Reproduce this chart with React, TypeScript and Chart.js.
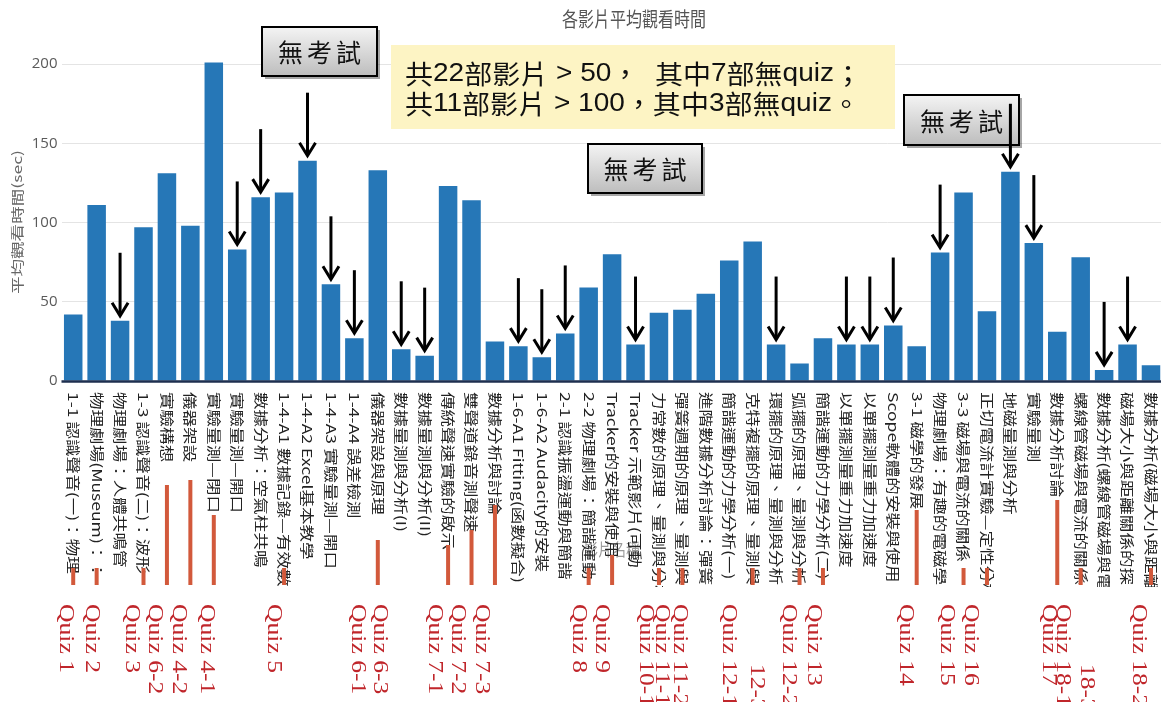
import { useEffect, useRef } from "react";
import { Chart, registerables } from "chart.js";

Chart.register(...registerables);

// ---------- data ----------
const videoTitles: string[] = [
  "1-1 認識聲音(一)：物理",
  "物理劇場(Museum)：：",
  "物理劇場：人體共鳴管",
  "1-3 認識聲音(二)：波形",
  "實驗構想",
  "儀器架設",
  "實驗量測—閉口",
  "實驗量測—開口",
  "數據分析：空氣柱共鳴",
  "1-4-A1 數據記錄—有效數",
  "1-4-A2 Excel基本教學",
  "1-4-A3 實驗量測—開口",
  "1-4-A4 誤差檢測",
  "儀器架設與原理",
  "數據量測與分析(I)",
  "數據量測與分析(II)",
  "傳統聲速實驗的啟示",
  "雙聲道錄音測聲速",
  "數據分析與討論",
  "1-6-A1 Fitting(函數擬合)",
  "1-6-A2 Audacity的安裝",
  "2-1 認識振盪運動與簡諧",
  "2-2 物理劇場：簡諧運動",
  "Tracker的安裝與使用",
  "Tracker 示範影片(可動",
  "力常數的原理、量測與分析",
  "彈簧週期的原理、量測與",
  "進階數據分析討論：彈簧",
  "簡諧運動的力學分析(一)",
  "克特複擺的原理、量測與",
  "環擺的原理、量測與分析",
  "弧擺的原理、量測與分析",
  "簡諧運動的力學分析(二)",
  "以單擺測量重力加速度",
  "以單擺測量重力加速度",
  "Scope軟體的安裝與使用",
  "3-1 磁學的發展",
  "物理劇場：有趣的電磁學",
  "3-3 磁場與電流的關係",
  "正切電流計實驗—定性分析",
  "地磁量測與分析",
  "實驗量測",
  "數據分析討論",
  "螺線管磁場與電流的關係",
  "數據分析(螺線管磁場與電流",
  "磁場大小與距離關係的探",
  "數據分析(磁場大小與距離",
];

const avgWatchSeconds: number[] = [
  42, 111, 38, 97, 131, 98, 201, 83, 116, 119,
  139, 61, 27, 133, 20, 16, 123, 114, 25, 22,
  15, 30, 59, 80, 23, 43, 45, 55, 76, 88,
  23, 11, 27, 23, 23, 35, 22, 81, 119, 44,
  132, 87, 31, 78, 7, 23, 10,
];

const yTickValues: number[] = [0, 50, 100, 150, 200];

// videos marked with a "no quiz" arrow (category indexes)
const noQuizArrowIdx: number[] = [2, 7, 8, 10, 11, 12, 14, 15, 19, 20, 21, 24, 30, 33, 34, 35, 37, 40, 41, 44, 45];

// red quiz markers under the labels (category index, marker top)
const quizMarkIdx: number[] = [0, 1, 3, 4, 5, 6, 9, 13, 16, 17, 18, 22, 23, 25, 26, 29, 31, 32, 36, 38, 39, 42, 43, 46];
const quizMarkTop: number[] = [568, 568, 568, 485, 480, 515, 568, 540, 545, 530, 505, 568, 555, 568, 568, 568, 568, 568, 510, 568, 568, 500, 568, 568];

// red quiz labels (text, category slot)
const quizLabelTexts: string[] = [
  "Quiz 1", "Quiz 2", "Quiz 3", "Quiz 6-2", "Quiz 4-2", "Quiz 4-1", "Quiz 5",
  "Quiz 6-1", "Quiz 6-3", "Quiz 7-1", "Quiz 7-2", "Quiz 7-3", "Quiz 8", "Quiz 9",
  "Quiz 10-1", "Quiz 11-1", "Quiz 11-2", "Quiz 12-1", "12-3", "Quiz 12-2", "Quiz 13",
  "Quiz 14", "Quiz 15", "Quiz 16", "Quiz 17", "Quiz 18-1", "18-3", "Quiz 18-2",
];
const quizLabelSlots: number[] = [
  -0.36, 0.77, 2.48, 3.46, 4.48, 5.68, 8.54,
  12.12, 13.06, 15.41, 16.39, 17.41, 21.55, 22.54,
  24.41, 25.1, 25.87, 27.96, 29.15, 30.52, 31.58,
  35.51, 37.26, 38.28, 41.61, 42.21, 43.24, 45.45,
];

const chartTitle = "各影片平均觀看時間";
const yAxisTitle = "平均觀看時間(sec)";
const xAxisTitle = "影片名稱";
const noteLines: string[] = ["共22部影片 > 50，  其中7部無quiz；", "共11部影片 > 100，其中3部無quiz。"];
const noExamText = "無考試";

const CJK = "'Noto Sans CJK TC', 'Noto Sans', sans-serif";
const LATIN_NOTE = "26px 'Liberation Sans', 'DejaVu Sans', sans-serif";
const CJK_NOTE = "26px 'Noto Sans CJK TC', sans-serif";

function stretchedText(
  ctx: CanvasRenderingContext2D,
  text: string,
  x: number,
  y: number,
  sy: number,
  angle: number,
  align: CanvasTextAlign
) {
  ctx.save();
  ctx.translate(x, y);
  ctx.scale(1, sy);
  ctx.rotate(angle);
  ctx.textAlign = align;
  ctx.textBaseline = "middle";
  ctx.fillText(text, 0, 0);
  ctx.restore();
}

function isWide(ch: string) {
  return ch.charCodeAt(0) >= 0x2e80;
}

function splitRuns(text: string) {
  const runs: { t: string; wide: boolean }[] = [];
  for (const ch of text) {
    const w = isWide(ch);
    const last = runs[runs.length - 1];
    if (last && last.wide === w) last.t += ch;
    else runs.push({ t: ch, wide: w });
  }
  return runs;
}

function measureRuns(ctx: CanvasRenderingContext2D, text: string) {
  let w = 0;
  for (const r of splitRuns(text)) {
    ctx.font = r.wide ? CJK_NOTE : LATIN_NOTE;
    w += ctx.measureText(r.t).width;
  }
  return w;
}

function drawRuns(ctx: CanvasRenderingContext2D, text: string) {
  let x = 0;
  for (const r of splitRuns(text)) {
    ctx.font = r.wide ? CJK_NOTE : LATIN_NOTE;
    ctx.fillText(r.t, x, 0);
    x += ctx.measureText(r.t).width;
  }
}

function grayBox(ctx: CanvasRenderingContext2D, x: number, y: number, w: number, h: number) {
  ctx.save();
  ctx.fillStyle = "rgba(0,0,0,0.35)";
  ctx.fillRect(x + 3, y + 3, w, h);
  const g = ctx.createLinearGradient(0, y, 0, y + h);
  g.addColorStop(0, "#f4f4f4");
  g.addColorStop(1, "#bdbdbd");
  ctx.fillStyle = g;
  ctx.fillRect(x, y, w, h);
  ctx.strokeStyle = "#000";
  ctx.lineWidth = 2;
  ctx.strokeRect(x, y, w, h);
  ctx.fillStyle = "#111";
  ctx.font = `25px ${CJK}`;
  (ctx as any).letterSpacing = "4px";
  ctx.textAlign = "center";
  ctx.textBaseline = "middle";
  ctx.fillText(noExamText, x + w / 2 + 2, y + h / 2 + 1);
  ctx.restore();
}

const overlayPlugin = {
  id: "overlay",
  afterDraw(chart: any) {
    const ctx: CanvasRenderingContext2D = chart.ctx;
    const xs = chart.scales.x;
    const ys = chart.scales.y;
    const area = chart.chartArea;

    // axis line
    ctx.save();
    ctx.strokeStyle = "#1e2f4f";
    ctx.lineWidth = 2.5;
    ctx.beginPath();
    ctx.moveTo(area.left, area.bottom + 0.5);
    ctx.lineTo(area.right, area.bottom + 0.5);
    ctx.stroke();
    ctx.restore();

    // title
    ctx.save();
    ctx.fillStyle = "#555";
    ctx.font = `16px ${CJK}`;
    stretchedText(ctx, chartTitle, 634, 19, 1.25, 0, "center");
    // y title
    ctx.fillStyle = "#666";
    ctx.font = `13px ${CJK}`;
    stretchedText(ctx, yAxisTitle, 17, 222, 1.35, -Math.PI / 2, "center");
    // faint x title
    ctx.fillStyle = "#9a9a9a";
    ctx.font = `14px ${CJK}`;
    stretchedText(ctx, xAxisTitle, 612, 550, 1.2, 0, "center");
    ctx.restore();

    // category labels (rotated, reading downward)
    ctx.save();
    ctx.beginPath();
    ctx.rect(0, area.bottom + 3, chart.width, 587 - area.bottom - 3);
    ctx.clip();
    ctx.fillStyle = "#222";
    ctx.font = `13.5px ${CJK}`;
    videoTitles.forEach((t, i) => {
      const x = xs.getPixelForValue(i);
      stretchedText(ctx, t, x, area.bottom + 11, 1.3, Math.PI / 2, "left");
    });
    ctx.restore();

    // red quiz markers
    ctx.save();
    ctx.strokeStyle = "#d2593b";
    ctx.lineWidth = 4;
    quizMarkIdx.forEach((idx, k) => {
      const x = xs.getPixelForValue(idx);
      ctx.beginPath();
      ctx.moveTo(x, quizMarkTop[k]);
      ctx.lineTo(x, 585);
      ctx.stroke();
    });
    ctx.fillStyle = "#c0262b";
    ctx.font = "20px 'Liberation Serif', 'DejaVu Serif', serif";
    quizLabelTexts.forEach((t, k) => {
      const x = xs.getPixelForValue(quizLabelSlots[k]);
      const top = t.startsWith("Quiz") ? 604 : 664;
      stretchedText(ctx, t, x, top, 1.28, Math.PI / 2, "left");
    });
    ctx.restore();

    // yellow note box
    ctx.save();
    ctx.fillStyle = "#fdf4c4";
    ctx.fillRect(391, 45, 504, 84);
    ctx.fillStyle = "#111";
    ctx.textAlign = "left";
    ctx.textBaseline = "middle";
    const w0 = measureRuns(ctx, noteLines[0]);
    const sx = 457 / w0;
    noteLines.forEach((line, k) => {
      ctx.save();
      ctx.translate(405, k === 0 ? 74 : 104);
      ctx.scale(sx, 1);
      drawRuns(ctx, line);
      ctx.restore();
    });
    ctx.restore();

    // "no exam" boxes
    grayBox(ctx, 262, 27, 115, 49);
    grayBox(ctx, 588, 144, 114, 49);
    grayBox(ctx, 904, 95, 115, 50);

    // arrows
    ctx.save();
    ctx.strokeStyle = "#000";
    ctx.lineWidth = 3;
    ctx.lineJoin = "miter";
    noQuizArrowIdx.forEach((idx) => {
      const x = xs.getPixelForValue(idx);
      const tip = ys.getPixelForValue(avgWatchSeconds[idx]) - 5;
      ctx.beginPath();
      ctx.moveTo(x, tip - 63);
      ctx.lineTo(x, tip - 1);
      ctx.stroke();
      ctx.beginPath();
      ctx.moveTo(x - 8, tip - 13);
      ctx.lineTo(x, tip);
      ctx.lineTo(x + 8, tip - 13);
      ctx.stroke();
    });
    ctx.restore();
  },
};

export default function App() {
  const canvasRef = useRef<HTMLCanvasElement | null>(null);

  useEffect(() => {
    const canvas = canvasRef.current;
    if (!canvas) return;
    const chart = new Chart(canvas, {
      type: "bar",
      data: {
        labels: videoTitles,
        datasets: [
          {
            label: yAxisTitle,
            data: avgWatchSeconds,
            backgroundColor: "#2677b7",
            borderWidth: 0,
            categoryPercentage: 1,
            barPercentage: 0.79,
          },
        ],
      },
      options: {
        responsive: false,
        animation: false,
        devicePixelRatio: 1,
        layout: { padding: { top: 32.3, right: 12.3, left: 0, bottom: 0 } },
        plugins: {
          legend: { display: false },
          title: { display: false },
          tooltip: { enabled: false },
        },
        scales: {
          x: {
            afterFit: (s: any) => {
              s.height = 321;
            },
            grid: { display: false },
            border: { display: false },
            ticks: { display: false },
          },
          y: {
            min: 0,
            max: 220,
            afterBuildTicks: (s: any) => {
              s.ticks = yTickValues.map((v) => ({ value: v }));
            },
            afterFit: (s: any) => {
              s.width = 61.5;
            },
            grid: { color: "#e4e4e4", drawTicks: false },
            border: { display: false },
            ticks: {
              padding: 4,
              color: "#5a5a5a",
              font: { size: 15, family: "'Open Sans', 'Noto Sans', sans-serif" },
            },
          },
        },
      },
      plugins: [overlayPlugin],
    });
    return () => chart.destroy();
  }, []);

  return (
    <div
      style={{
        position: "fixed",
        left: 0,
        top: 0,
        width: 1161,
        height: 702,
        overflow: "hidden",
        background: "#fff",
      }}
    >
      <canvas ref={canvasRef} width={1175} height={702} style={{ display: "block" }} />
    </div>
  );
}
